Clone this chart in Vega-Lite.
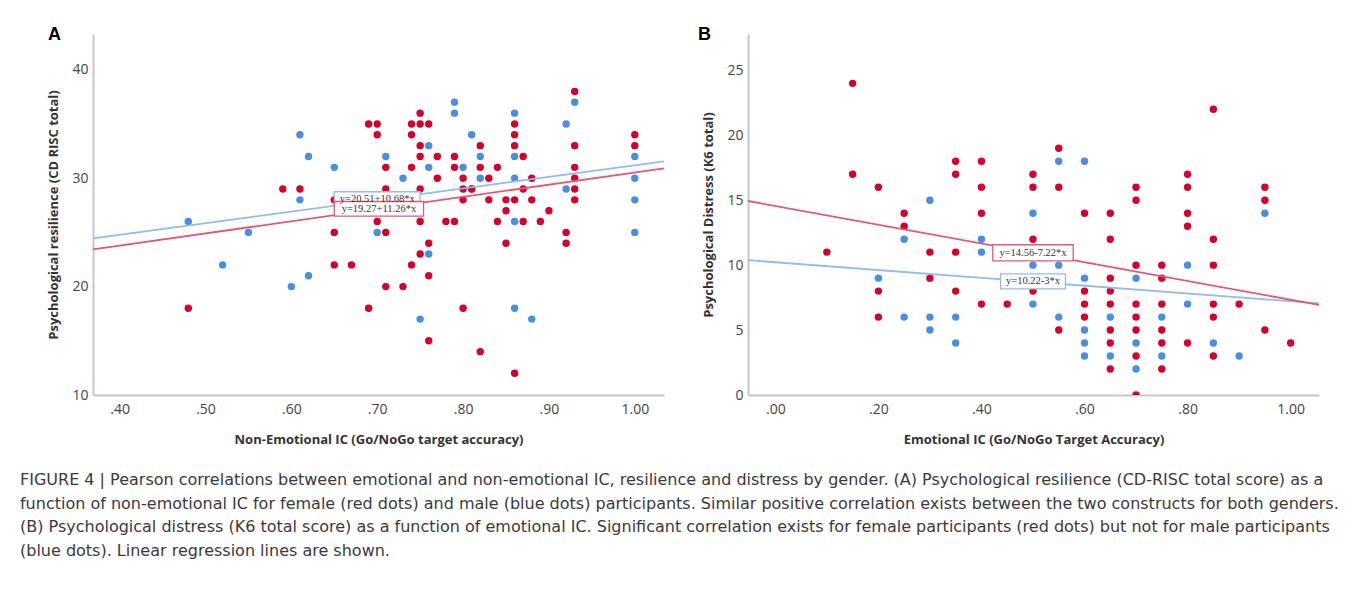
{
  "$schema": "https://vega.github.io/schema/vega-lite/v6.json",
  "background": "white",
  "padding": {"left": 19, "top": 26, "right": 5, "bottom": 5},
  "config": {
    "view": {"stroke": null},
    "axis": {
      "domainColor": "#c8c8c8", "domainWidth": 2, "ticks": false, "grid": false,
      "labelFont": "Open Sans", "labelFontSize": 14, "labelColor": "#444",
      "titleFont": "Open Sans", "titleFontSize": 13, "titleFontWeight": "bold", "titleColor": "#333",
      "zindex": 1, "labelFlush": false
    },
    "axisX": {"labelPadding": 7, "titlePadding": 17},
    "axisY": {"labelPadding": 5, "titlePadding": 11}
  },
  "title": {
    "text": [
      "FIGURE 4 | Pearson correlations between emotional and non-emotional IC, resilience and distress by gender. (A) Psychological resilience (CD-RISC total score) as a",
      "function of non-emotional IC for female (red dots) and male (blue dots) participants. Similar positive correlation exists between the two constructs for both genders.",
      "(B) Psychological distress (K6 total score) as a function of emotional IC. Significant correlation exists for female participants (red dots) but not for male participants",
      "(blue dots). Linear regression lines are shown."
    ],
    "orient": "bottom", "anchor": "start", "frame": "bounds",
    "font": "DejaVu Sans", "fontSize": 16, "fontWeight": "normal", "color": "#3a3a3a",
    "lineHeight": 23.5, "offset": 26, "dx": -28, "baseline": "top"
  },
  "datasets": {
    "a_points": [
      {"gender":"male","x":0.48,"y":26},{"gender":"male","x":0.55,"y":25},{"gender":"male","x":0.52,"y":22},{"gender":"male","x":0.60,"y":20},
      {"gender":"male","x":0.62,"y":21},{"gender":"male","x":0.61,"y":34},{"gender":"male","x":0.62,"y":32},{"gender":"male","x":0.61,"y":28},
      {"gender":"male","x":0.65,"y":31},{"gender":"male","x":0.70,"y":25},{"gender":"male","x":0.71,"y":32},{"gender":"male","x":0.73,"y":30},
      {"gender":"male","x":0.75,"y":17},{"gender":"male","x":0.76,"y":33},{"gender":"male","x":0.76,"y":31},{"gender":"male","x":0.76,"y":23},
      {"gender":"male","x":0.79,"y":37},{"gender":"male","x":0.79,"y":36},{"gender":"male","x":0.80,"y":31},{"gender":"male","x":0.81,"y":34},
      {"gender":"male","x":0.82,"y":32},{"gender":"male","x":0.82,"y":30},{"gender":"male","x":0.81,"y":29},{"gender":"male","x":0.86,"y":36},
      {"gender":"male","x":0.86,"y":32},{"gender":"male","x":0.86,"y":30},{"gender":"male","x":0.86,"y":26},{"gender":"male","x":0.86,"y":18},
      {"gender":"male","x":0.88,"y":17},{"gender":"male","x":0.92,"y":35},{"gender":"male","x":0.92,"y":29},{"gender":"male","x":0.93,"y":37},
      {"gender":"male","x":1.00,"y":32},{"gender":"male","x":1.00,"y":30},{"gender":"male","x":1.00,"y":28},{"gender":"male","x":1.00,"y":25},
      {"gender":"female","x":0.48,"y":18},{"gender":"female","x":0.59,"y":29},{"gender":"female","x":0.61,"y":29},{"gender":"female","x":0.65,"y":28},
      {"gender":"female","x":0.65,"y":25},{"gender":"female","x":0.65,"y":22},{"gender":"female","x":0.67,"y":22},{"gender":"female","x":0.69,"y":18},
      {"gender":"female","x":0.69,"y":35},{"gender":"female","x":0.70,"y":35},{"gender":"female","x":0.70,"y":34},{"gender":"female","x":0.71,"y":31},
      {"gender":"female","x":0.71,"y":29},{"gender":"female","x":0.70,"y":26},{"gender":"female","x":0.71,"y":25},{"gender":"female","x":0.71,"y":20},
      {"gender":"female","x":0.73,"y":20},{"gender":"female","x":0.74,"y":35},{"gender":"female","x":0.74,"y":34},{"gender":"female","x":0.75,"y":36},
      {"gender":"female","x":0.75,"y":35},{"gender":"female","x":0.76,"y":35},{"gender":"female","x":0.75,"y":33},{"gender":"female","x":0.75,"y":32},
      {"gender":"female","x":0.74,"y":31},{"gender":"female","x":0.77,"y":32},{"gender":"female","x":0.77,"y":30},{"gender":"female","x":0.75,"y":29},
      {"gender":"female","x":0.75,"y":26},{"gender":"female","x":0.75,"y":23},{"gender":"female","x":0.74,"y":22},{"gender":"female","x":0.76,"y":24},
      {"gender":"female","x":0.76,"y":21},{"gender":"female","x":0.76,"y":15},{"gender":"female","x":0.78,"y":26},{"gender":"female","x":0.79,"y":26},
      {"gender":"female","x":0.79,"y":32},{"gender":"female","x":0.79,"y":31},{"gender":"female","x":0.80,"y":30},{"gender":"female","x":0.80,"y":29},
      {"gender":"female","x":0.80,"y":28},{"gender":"female","x":0.81,"y":29},{"gender":"female","x":0.80,"y":18},{"gender":"female","x":0.82,"y":33},
      {"gender":"female","x":0.82,"y":31},{"gender":"female","x":0.83,"y":30},{"gender":"female","x":0.83,"y":28},{"gender":"female","x":0.82,"y":14},
      {"gender":"female","x":0.84,"y":31},{"gender":"female","x":0.84,"y":26},{"gender":"female","x":0.85,"y":28},{"gender":"female","x":0.85,"y":27},
      {"gender":"female","x":0.85,"y":24},{"gender":"female","x":0.86,"y":35},{"gender":"female","x":0.86,"y":34},{"gender":"female","x":0.86,"y":33},
      {"gender":"female","x":0.86,"y":28},{"gender":"female","x":0.86,"y":12},{"gender":"female","x":0.87,"y":32},{"gender":"female","x":0.87,"y":29},
      {"gender":"female","x":0.87,"y":26},{"gender":"female","x":0.88,"y":28},{"gender":"female","x":0.88,"y":30},{"gender":"female","x":0.89,"y":26},
      {"gender":"female","x":0.90,"y":27},{"gender":"female","x":0.92,"y":25},{"gender":"female","x":0.92,"y":24},{"gender":"female","x":0.93,"y":38},
      {"gender":"female","x":0.93,"y":33},{"gender":"female","x":0.93,"y":31},{"gender":"female","x":0.93,"y":30},{"gender":"female","x":0.93,"y":29},
      {"gender":"female","x":0.93,"y":28},{"gender":"female","x":1.00,"y":34},{"gender":"female","x":1.00,"y":33}
    ],
    "a_lines": [
      {"gender":"male","x":0.369,"y":24.45},{"gender":"male","x":1.034,"y":31.55},
      {"gender":"female","x":0.369,"y":23.43},{"gender":"female","x":1.034,"y":30.91}
    ],
    "a_labels": [
      {"gender":"male","x":0.650,"x2":0.750,"y":28.75,"y2":27.55,"xc":0.700,"yc":28.1,"label":"y=20.51+10.68*x"},
      {"gender":"female","x":0.650,"x2":0.754,"y":27.85,"y2":26.5,"xc":0.702,"yc":27.15,"label":"y=19.27+11.26*x"}
    ],
    "b_points": [
      {"gender":"male","x":0.20,"y":9},{"gender":"male","x":0.25,"y":12},{"gender":"male","x":0.25,"y":6},{"gender":"male","x":0.30,"y":15},
      {"gender":"male","x":0.30,"y":6},{"gender":"male","x":0.30,"y":5},{"gender":"male","x":0.35,"y":6},{"gender":"male","x":0.35,"y":4},
      {"gender":"male","x":0.40,"y":12},{"gender":"male","x":0.40,"y":11},{"gender":"male","x":0.50,"y":14},{"gender":"male","x":0.50,"y":10},
      {"gender":"male","x":0.50,"y":7},{"gender":"male","x":0.55,"y":18},{"gender":"male","x":0.55,"y":10},{"gender":"male","x":0.55,"y":6},
      {"gender":"male","x":0.60,"y":18},{"gender":"male","x":0.60,"y":9},{"gender":"male","x":0.60,"y":5},{"gender":"male","x":0.60,"y":4},
      {"gender":"male","x":0.60,"y":3},{"gender":"male","x":0.65,"y":6},{"gender":"male","x":0.65,"y":3},{"gender":"male","x":0.70,"y":9},
      {"gender":"male","x":0.70,"y":4},{"gender":"male","x":0.70,"y":2},{"gender":"male","x":0.75,"y":6},{"gender":"male","x":0.75,"y":3},
      {"gender":"male","x":0.80,"y":10},{"gender":"male","x":0.80,"y":7},{"gender":"male","x":0.85,"y":4},{"gender":"male","x":0.90,"y":3},
      {"gender":"male","x":0.95,"y":14},
      {"gender":"female","x":0.10,"y":11},{"gender":"female","x":0.15,"y":24},{"gender":"female","x":0.15,"y":17},{"gender":"female","x":0.20,"y":16},
      {"gender":"female","x":0.20,"y":8},{"gender":"female","x":0.20,"y":6},{"gender":"female","x":0.25,"y":14},{"gender":"female","x":0.25,"y":13},
      {"gender":"female","x":0.30,"y":11},{"gender":"female","x":0.30,"y":9},{"gender":"female","x":0.35,"y":18},{"gender":"female","x":0.35,"y":17},
      {"gender":"female","x":0.35,"y":11},{"gender":"female","x":0.35,"y":8},{"gender":"female","x":0.40,"y":18},{"gender":"female","x":0.40,"y":16},
      {"gender":"female","x":0.40,"y":14},{"gender":"female","x":0.40,"y":7},{"gender":"female","x":0.45,"y":7},{"gender":"female","x":0.50,"y":17},
      {"gender":"female","x":0.50,"y":16},{"gender":"female","x":0.50,"y":12},{"gender":"female","x":0.50,"y":8},{"gender":"female","x":0.55,"y":19},
      {"gender":"female","x":0.55,"y":16},{"gender":"female","x":0.55,"y":5},{"gender":"female","x":0.60,"y":14},{"gender":"female","x":0.60,"y":8},
      {"gender":"female","x":0.60,"y":7},{"gender":"female","x":0.60,"y":6},{"gender":"female","x":0.65,"y":14},{"gender":"female","x":0.65,"y":12},
      {"gender":"female","x":0.65,"y":9},{"gender":"female","x":0.65,"y":8},{"gender":"female","x":0.65,"y":7},{"gender":"female","x":0.65,"y":5},
      {"gender":"female","x":0.65,"y":4},{"gender":"female","x":0.65,"y":2},{"gender":"female","x":0.70,"y":16},{"gender":"female","x":0.70,"y":15},
      {"gender":"female","x":0.70,"y":10},{"gender":"female","x":0.70,"y":7},{"gender":"female","x":0.70,"y":6},{"gender":"female","x":0.70,"y":5},
      {"gender":"female","x":0.70,"y":3},{"gender":"female","x":0.70,"y":0},{"gender":"female","x":0.75,"y":10},{"gender":"female","x":0.75,"y":9},
      {"gender":"female","x":0.75,"y":7},{"gender":"female","x":0.75,"y":5},{"gender":"female","x":0.75,"y":4},{"gender":"female","x":0.75,"y":2},
      {"gender":"female","x":0.80,"y":17},{"gender":"female","x":0.80,"y":16},{"gender":"female","x":0.80,"y":14},{"gender":"female","x":0.80,"y":13},
      {"gender":"female","x":0.80,"y":4},{"gender":"female","x":0.85,"y":22},{"gender":"female","x":0.85,"y":12},{"gender":"female","x":0.85,"y":10},
      {"gender":"female","x":0.85,"y":7},{"gender":"female","x":0.85,"y":6},{"gender":"female","x":0.85,"y":3},{"gender":"female","x":0.90,"y":7},
      {"gender":"female","x":0.95,"y":16},{"gender":"female","x":0.95,"y":15},{"gender":"female","x":0.95,"y":5},{"gender":"female","x":1.00,"y":4}
    ],
    "b_lines": [
      {"gender":"male","x":-0.053,"y":10.38},{"gender":"male","x":1.055,"y":7.055},
      {"gender":"female","x":-0.053,"y":14.94},{"gender":"female","x":1.055,"y":6.94}
    ],
    "b_labels": [
      {"gender":"female","x":0.422,"x2":0.578,"y":11.57,"y2":10.33,"xc":0.500,"yc":10.95,"label":"y=14.56-7.22*x"},
      {"gender":"male","x":0.437,"x2":0.563,"y":9.33,"y2":8.17,"xc":0.500,"yc":8.75,"label":"y=10.22-3*x"}
    ]
  },
  "spacing": 30,
  "hconcat": [
    {
      "width": 571, "height": 361,
      "title": {"text": "A", "anchor": "start", "frame": "group", "font": "Liberation Sans", "fontSize": 18, "fontWeight": "bold", "color": "#000", "baseline": "alphabetic", "offset": 0, "dx": -45, "dy": 24},
      "layer": [
        {
          "data": {"name": "a_points"},
          "mark": {"type": "circle", "size": 55, "opacity": 1},
          "encoding": {
            "x": {"field": "x", "type": "quantitative", "scale": {"domain": [0.369, 1.034], "nice": false, "zero": false},
                  "axis": {"title": "Non-Emotional IC (Go/NoGo target accuracy)", "values": [0.4,0.5,0.6,0.7,0.8,0.9,1.0],
                           "labelExpr": "datum.value >= 1 ? format(datum.value, '.2f') : substring(format(datum.value, '.2f'), 1)"}},
            "y": {"field": "y", "type": "quantitative", "scale": {"domain": [10, 43.3], "nice": false, "zero": false},
                  "axis": {"title": "Psychological resilience (CD RISC total)", "values": [10,20,30,40]}},
            "fill": {"field": "gender", "type": "nominal", "scale": {"domain": ["female","male"], "range": ["#d3002c","#4a8fdc"]}, "legend": null}
          }
        },
        {
          "data": {"name": "a_lines"},
          "mark": {"type": "line", "strokeWidth": 1.8},
          "encoding": {
            "x": {"field": "x", "type": "quantitative"},
            "y": {"field": "y", "type": "quantitative"},
            "stroke": {"field": "gender", "type": "nominal", "scale": {"domain": ["female","male"], "range": ["#e05a75","#93bbe9"]}, "legend": null}
          }
        },
        {
          "data": {"name": "a_labels"},
          "layer": [
            {
              "mark": {"type": "rect", "fill": "white", "strokeWidth": 1.3},
              "encoding": {
                "x": {"field": "x", "type": "quantitative"}, "x2": {"field": "x2"},
                "y": {"field": "y", "type": "quantitative"}, "y2": {"field": "y2"},
                "stroke": {"field": "gender", "type": "nominal", "legend": null}
              }
            },
            {
              "mark": {"type": "text", "font": "Liberation Serif", "fontSize": 10.5, "color": "#333"},
              "encoding": {
                "x": {"field": "xc", "type": "quantitative"},
                "y": {"field": "yc", "type": "quantitative"},
                "text": {"field": "label"}
              }
            }
          ]
        }
      ]
    },
    {
      "width": 571, "height": 361,
      "title": {"text": "B", "anchor": "start", "frame": "group", "font": "Liberation Sans", "fontSize": 18, "fontWeight": "bold", "color": "#000", "baseline": "alphabetic", "offset": 0, "dx": -50, "dy": 24},
      "layer": [
        {
          "data": {"name": "b_points"},
          "mark": {"type": "circle", "size": 55, "opacity": 1, "clip": true},
          "encoding": {
            "x": {"field": "x", "type": "quantitative", "scale": {"domain": [-0.053, 1.055], "nice": false, "zero": false},
                  "axis": {"title": "Emotional IC (Go/NoGo Target Accuracy)", "values": [0,0.2,0.4,0.6,0.8,1.0],
                           "labelExpr": "datum.value >= 1 ? format(datum.value, '.2f') : substring(format(datum.value, '.2f'), 1)"}},
            "y": {"field": "y", "type": "quantitative", "scale": {"domain": [0, 27.8], "nice": false, "zero": false},
                  "axis": {"title": "Psychological Distress (K6 total)", "values": [0,5,10,15,20,25]}},
            "fill": {"field": "gender", "type": "nominal", "scale": {"domain": ["female","male"], "range": ["#d3002c","#4a8fdc"]}, "legend": null}
          }
        },
        {
          "data": {"name": "b_lines"},
          "mark": {"type": "line", "strokeWidth": 1.8},
          "encoding": {
            "x": {"field": "x", "type": "quantitative"},
            "y": {"field": "y", "type": "quantitative"},
            "stroke": {"field": "gender", "type": "nominal", "scale": {"domain": ["female","male"], "range": ["#e05a75","#93bbe9"]}, "legend": null}
          }
        },
        {
          "data": {"name": "b_labels"},
          "layer": [
            {
              "mark": {"type": "rect", "fill": "white", "strokeWidth": 1.3},
              "encoding": {
                "x": {"field": "x", "type": "quantitative"}, "x2": {"field": "x2"},
                "y": {"field": "y", "type": "quantitative"}, "y2": {"field": "y2"},
                "stroke": {"field": "gender", "type": "nominal", "legend": null}
              }
            },
            {
              "mark": {"type": "text", "font": "Liberation Serif", "fontSize": 10.5, "color": "#333"},
              "encoding": {
                "x": {"field": "xc", "type": "quantitative"},
                "y": {"field": "yc", "type": "quantitative"},
                "text": {"field": "label"}
              }
            }
          ]
        }
      ]
    }
  ]
}
